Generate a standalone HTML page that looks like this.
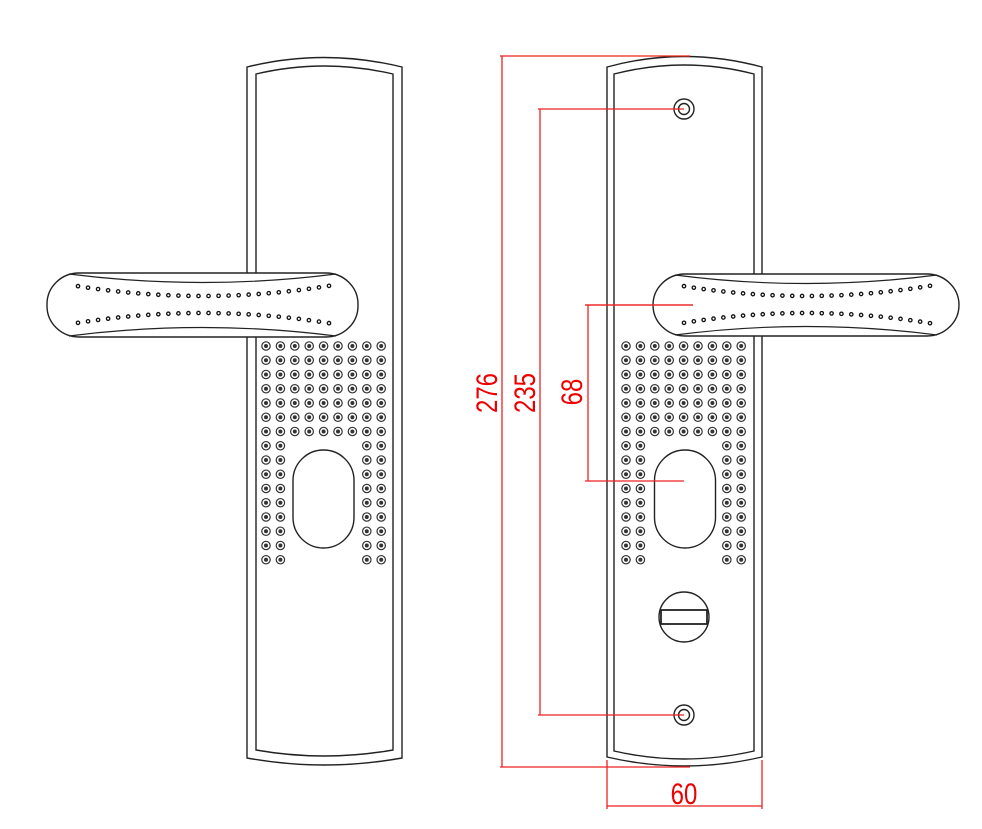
<!DOCTYPE html>
<html><head><meta charset="utf-8"><style>
html,body{margin:0;padding:0;background:#fff;}
svg{display:block;}
text{font-family:"Liberation Sans",sans-serif;fill:#e00;}
</style></head><body>
<svg id="s" width="982" height="829" viewBox="0 0 982 829" xmlns="http://www.w3.org/2000/svg">
<g fill="none" stroke="#222" stroke-width="1.4">
 <path d="M247,758 L247,67 Q324,48 402,67 L402,758 Q324,772 247,758 Z" fill="#fff"/>
 <path d="M256,750 L256,74 Q324,58 393,74 L393,750 Q324,762 256,750 Z"/>
 <rect x="293" y="450" width="61" height="98" rx="30.5" ry="30.5"/>
 <path d="M607,757 L607,67 Q684,46 762,67 L762,757 Q684,775 607,757 Z" fill="#fff"/>
 <path d="M614,751 L614,74 Q684,56 754,74 L754,751 Q684,767 614,751 Z"/>
 <rect x="654.5" y="450" width="61" height="98" rx="30.5" ry="30.5"/>
 <circle cx="684" cy="109" r="10"/><circle cx="684" cy="109" r="5.5"/>
 <circle cx="684" cy="715" r="10"/><circle cx="684" cy="715" r="5.5"/>
 <circle cx="684" cy="617" r="25"/>
 <rect x="661" y="610" width="46" height="14" stroke-width="1.8" fill="#fff"/>
</g>
<g id="grid" fill="none" stroke="#333" stroke-width="1.2"></g>
<g id="handles"></g>
<g stroke="#e22" stroke-width="1.3" fill="none">
 <line x1="500" y1="56" x2="690" y2="56"/>
 <line x1="502" y1="56" x2="502" y2="767"/>
 <line x1="500" y1="767" x2="690" y2="767"/>
 <line x1="538" y1="109" x2="684" y2="109"/>
 <line x1="540" y1="109" x2="540" y2="715"/>
 <line x1="538" y1="715" x2="684" y2="715"/>
 <line x1="585" y1="305" x2="693" y2="305"/>
 <line x1="588" y1="305" x2="588" y2="481"/>
 <line x1="585" y1="481" x2="684" y2="481"/>
 <line x1="607" y1="760" x2="607" y2="809"/>
 <line x1="762" y1="760" x2="762" y2="809"/>
 <line x1="607" y1="806" x2="762" y2="806"/>
</g>
<text x="0" y="0" font-size="30" text-anchor="middle" transform="translate(497,393) rotate(-90) scale(0.8,1)">276</text>
<text x="0" y="0" font-size="30" text-anchor="middle" transform="translate(535,393) rotate(-90) scale(0.8,1)">235</text>
<text x="0" y="0" font-size="30" text-anchor="middle" transform="translate(582,392) rotate(-90) scale(0.8,1)">68</text>
<text x="0" y="0" font-size="30" text-anchor="middle" transform="translate(684,804) scale(0.8,1)">60</text>
</svg>
<script>
var NS="http://www.w3.org/2000/svg";
function el(p,n,a){var e=document.createElementNS(NS,n);for(var k in a)e.setAttribute(k,a[k]);p.appendChild(e);return e;}
var g=document.getElementById("grid");
[266,626].forEach(function(x0){
 for(var r=0;r<16;r++){for(var c=0;c<9;c++){
  if(r>=7&&c>=2&&c<=6)continue;
  var x=x0+c*14.4,y=346+r*14.25;
  el(g,"circle",{cx:x,cy:y,r:4.2});
  el(g,"circle",{cx:x,cy:y,r:1.4,fill:"#333"});
 }}
});
var h=document.getElementById("handles");
function handle(x0,x1,y0,y1){
 el(h,"rect",{x:x0,y:y0,width:x1-x0,height:y1-y0,rx:32,ry:31,fill:"#fff",stroke:"#222","stroke-width":1.4});
 var cx=(x0+x1)/2;
 el(h,"path",{d:"M"+(x0+22)+","+(y0+1)+" Q"+cx+","+(y0+18)+" "+(x1-22)+","+(y0+1),fill:"none",stroke:"#222","stroke-width":1.2});
 el(h,"path",{d:"M"+(x0+22)+","+(y1-1)+" Q"+cx+","+(y1-18)+" "+(x1-22)+","+(y1-1),fill:"none",stroke:"#222","stroke-width":1.2});
 var a=x0+31,b=x1-29;
 for(var i=0;i<26;i++){
  var x=a+(b-a)*i/25,u=(x-cx)/((b-a)/2),k=1-u*u;
  el(h,"circle",{cx:x,cy:286+10*k,r:1.7,fill:"none",stroke:"#111","stroke-width":1.3});
  el(h,"circle",{cx:x,cy:323-10*k,r:1.7,fill:"none",stroke:"#111","stroke-width":1.3});
 }
}
handle(47,358,273,337);
handle(653,959,274,336);
el(h,"line",{x1:585,y1:305,x2:693,y2:305,stroke:"#e22","stroke-width":1.3});
</script>
</body></html>
